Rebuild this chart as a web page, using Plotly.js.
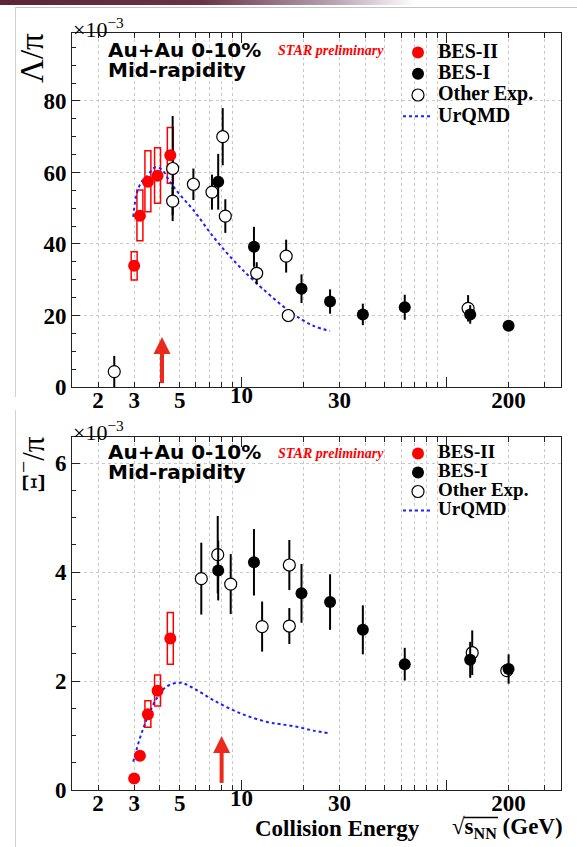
<!DOCTYPE html>
<html><head><meta charset="utf-8">
<script src="https://cdn.plot.ly/plotly-3.0.1.min.js"></script>
<style>
html,body{margin:0;padding:0;background:#fff;}
#wrap{position:relative;width:577px;height:847px;overflow:hidden;}
#plot{position:absolute;left:0;top:0;width:577px;height:847px;}
.bar{position:absolute;left:0;top:0;width:577px;height:5px;background:linear-gradient(to right,#5a2636 0%,#6a3446 35%,#b9a5b2 58%,#ffffff 72%);}
.hline{position:absolute;left:15px;top:7px;width:562px;height:1px;background:#c4c4c4;}
.vline1{position:absolute;left:15px;top:7px;width:1px;height:390px;background:#d0d0d0;}
.vline2{position:absolute;left:15px;top:410px;width:1px;height:437px;background:#d0d0d0;}
</style></head>
<body>
<div id="wrap"><div id="plot"></div><div class="bar"></div><div class="hline"></div><div class="vline1"></div><div class="vline2"></div></div>
<script>
// ---------- data (ratios in units of 1e-3) ----------
const besII_E = [3.0, 3.2, 3.5, 3.9, 4.5];
const lam_besII = [33.9, 47.9, 57.4, 59.1, 64.8];
const lam_besII_sysLo = [29.9, 40.9, 49.0, 51.4, 57.0];
const lam_besII_sysHi = [37.8, 55.1, 66.1, 66.9, 72.6];
const xi_besII = [0.21, 0.63, 1.39, 1.82, 2.78];
const xi_besII_sysLo = [0.19, 0.56, 1.15, 1.54, 2.31];
const xi_besII_sysHi = [0.23, 0.70, 1.64, 2.11, 3.26];

const besI_E = [7.7, 11.5, 19.6, 27, 39, 62.4, 130, 200];
const lam_besI = [57.4, 39.2, 27.5, 23.9, 20.3, 22.3, 20.3, 17.1];
const lam_besI_err = [7.8, 5.6, 4.0, 3.4, 3.0, 3.5, 2.6, 0.8];
const xi_besI = [4.03, 4.18, 3.61, 3.45, 2.94, 2.31, 2.39, 2.22];
const xi_besI_err = [0.55, 0.61, 0.54, 0.51, 0.45, 0.30, 0.33, 0.27];

const lamOther_E = [2.40, 4.62, 4.62, 5.83, 7.18, 8.10, 8.34, 11.86, 16.5, 16.9, 127];
const lam_other = [4.3, 61.1, 52.0, 56.7, 54.5, 70.0, 47.8, 31.8, 36.6, 20.0, 22.0];
const lam_other_err = [4.4, 14.7, 4.0, 4.4, 4.9, 8.0, 4.7, 3.1, 4.6, 1.8, 3.7];
const xiOther_E = [6.37, 7.66, 8.86, 12.6, 17.1, 17.1, 133, 196];
const xi_other = [3.88, 4.32, 3.78, 3.00, 4.13, 3.01, 2.52, 2.19];
const xi_other_err = [0.66, 0.71, 0.55, 0.46, 0.46, 0.33, 0.41, 0.10];

const urqmdLam_E = [2.97, 3.09, 3.27, 3.45, 3.79, 4.09, 4.48, 5.02, 5.83, 7.29, 9.12, 11.4, 17.2, 22.4, 27.0];
const urqmd_lam = [47.6, 54.2, 57.5, 58.8, 61.4, 60.8, 57.4, 53.7, 49.5, 42.0, 35.5, 29.9, 21.1, 17.1, 15.7];
const urqmdXi_E = [2.97, 3.20, 3.45, 3.86, 4.32, 5.02, 5.83, 7.29, 9.83, 13.3, 15.4, 18.6, 22.4, 26.8];
const urqmd_xi = [0.52, 0.95, 1.29, 1.68, 1.90, 1.97, 1.87, 1.65, 1.41, 1.25, 1.21, 1.16, 1.09, 1.04];

const arrowE_lam = 4.1, arrowShaft_lam = [1.1, 10.0], arrowTip_lam = 14.0;
const arrowE_xi = 8.0, arrowShaft_xi = [0.13, 0.75], arrowTip_xi = 0.99;

const xTickVals = [2,3,4,5,6,7,8,9,20,30,40,50,60,70,80,90,200,300];
const xTickText = ['2','3','','5','','','','','','30','','','','','','','200',''];
const decadeVals = [10, 100];
const decadeText = ['10', ''];
const lamTicks = [0,20,40,60,80];
const xiTicks = [0,2,4,6];

// ---------- styling ----------
const W = 577, H = 847;
const RED = '#ff0000', BLUE = '#1f1fff', ARROW = '#ea2a1c';
const serif = 'Liberation Serif, Times New Roman, serif';
const tickFont = {family: serif, size: 23, color: '#000', weight: 'bold'};
const xDom = [72/W, 561/W];
const yDomTop = [1-387/H, 1-33/H];
const yDomBot = [1-790/H, 1-437/H];
const xRange = [Math.log10(1.494), Math.log10(360)];
const gridCol = '#c9c9c9';

function mainX(anchor){
  return {type:'log', range:xRange, domain:xDom, anchor:anchor, tickmode:'array',
    tickvals:xTickVals, ticktext:xTickText, ticks:'inside', ticklen:5, tickwidth:1, tickcolor:'#222',
    showgrid:true, gridcolor:gridCol, griddash:'3px,3px', gridwidth:1,
    showline:true, linecolor:'#222', linewidth:1, mirror:'ticks', zeroline:false,
    tickfont:tickFont, ticklabelstandoff:-8, fixedrange:true};
}
function decX(over, anchor){
  return {type:'log', range:xRange, domain:xDom, anchor:anchor, overlaying:over, tickmode:'array',
    tickvals:decadeVals, ticktext:decadeText, ticks:'inside', ticklen:10, tickwidth:1, tickcolor:'#222',
    showgrid:false, showline:false, mirror:'ticks', zeroline:false, tickfont:tickFont, ticklabelstandoff:-8};
}
function mainY(anchor, dom, range, vals, minorD){
  return {range:range, domain:dom, anchor:anchor, tickmode:'array', tickvals:vals,
    ticks:'inside', ticklen:8, tickwidth:1, tickcolor:'#222',
    minor:{dtick:minorD, ticks:'inside', ticklen:4, tickcolor:'#222', showgrid:false},
    showgrid:true, gridcolor:gridCol, griddash:'3px,3px', gridwidth:1,
    showline:true, linecolor:'#222', linewidth:1, mirror:true, zeroline:false,
    tickfont:tickFont, fixedrange:true};
}

function lg(s, fs){ return '<span style="font-size:' + fs + 'px">' + s + '</span>'; }

function panel(xa, xdec, ya, legendId, fs, E2, v2, E1, v1, e1, Eo, vo, eo, Eu, vu, aE, aShaft, aTip){
  const tr = [];
  tr.push({type:'scatter', x:Eu, y:vu, mode:'lines', xaxis:xa, yaxis:ya, name:lg('UrQMD', fs),
    legend:legendId, legendrank:4, line:{color:BLUE, width:2, dash:'3px,3px', shape:'spline'}, hoverinfo:'skip'});
  tr.push({type:'scatter', x:Eo, y:vo, mode:'markers', xaxis:xa, yaxis:ya, name:lg('Other Exp.', fs),
    legend:legendId, legendrank:3,
    marker:{symbol:'circle', size:12, color:'#fff', line:{color:'#000', width:1.2}},
    error_y:{type:'data', array:eo, visible:true, color:'#000', thickness:2, width:0}});
  tr.push({type:'scatter', x:E1, y:v1, mode:'markers', xaxis:xa, yaxis:ya, name:lg('BES-I', fs),
    legend:legendId, legendrank:2, marker:{symbol:'circle', size:12, color:'#000'},
    error_y:{type:'data', array:e1, visible:true, color:'#000', thickness:2, width:0}});
  tr.push({type:'scatter', x:E2, y:v2, mode:'markers', xaxis:xa, yaxis:ya, name:lg('BES-II', fs),
    legend:legendId, legendrank:1, marker:{symbol:'circle', size:12, color:RED}});
  tr.push({type:'scatter', x:[aE, aE], y:aShaft, mode:'lines', xaxis:xdec, yaxis:ya, showlegend:false,
    line:{color:ARROW, width:4}, hoverinfo:'skip'});
  tr.push({type:'scatter', x:[aE], y:[aTip], mode:'markers', xaxis:xdec, yaxis:ya, showlegend:false,
    marker:{symbol:'arrow-up', size:17, color:ARROW, line:{width:0}}, hoverinfo:'skip'});
  return tr;
}

const data = [].concat(
  panel('x', 'x3', 'y', 'legend', 20, besII_E, lam_besII, besI_E, lam_besI, lam_besI_err,
        lamOther_E, lam_other, lam_other_err, urqmdLam_E, urqmd_lam, arrowE_lam, arrowShaft_lam, arrowTip_lam),
  panel('x2', 'x4', 'y2', 'legend2', 19, besII_E, xi_besII, besI_E, xi_besI, xi_besI_err,
        xiOther_E, xi_other, xi_other_err, urqmdXi_E, urqmd_xi, arrowE_xi, arrowShaft_xi, arrowTip_xi)
);

const boxF = 1.034;
function boxes(lo, hi, xref, yref){
  return besII_E.map((e, i) => ({type:'rect', xref:xref, yref:yref, x0:e/boxF, x1:e*boxF,
    y0:lo[i], y1:hi[i], line:{color:RED, width:1.5}, fillcolor:'rgba(0,0,0,0)', layer:'between'}));
}
const shapes = [].concat(boxes(lam_besII_sysLo, lam_besII_sysHi, 'x', 'y'),
                         boxes(xi_besII_sysLo, xi_besII_sysHi, 'x2', 'y2'));
// overline of the square-root sign in the x title
shapes.push({type:'line', xref:'paper', yref:'paper', x0:464/W, x1:498/W, y0:1-817.5/H, y1:1-817.5/H,
  line:{color:'#000', width:1.3}});

function ann(text, px, py, font, opts){
  return Object.assign({text:text, x:px/W, y:1-py/H, xref:'paper', yref:'paper', showarrow:false,
    xanchor:'left', yanchor:'middle', font:font}, opts||{});
}
const sansB = {family:'DejaVu Sans, sans-serif', size:15.4, color:'#000', weight:'bold'};
const starF = {family:serif, size:14, color:RED, weight:'bold', style:'italic'};
const expF = {family:serif, size:22, color:'#000'};
const titF = {family:serif, size:23, color:'#000', weight:'bold'};
const header = '<span style="font-size:20px">Au+Au 0-10%</span><br><span style="font-size:20px">Mid-rapidity</span>';

const annotations = [
  ann('×10<sup>−3</sup>', 71, 28, expF),
  ann('×10<sup>−3</sup>', 71, 431, expF),
  ann('Λ/π', 32, 58, {family:serif, size:33, color:'#000'}, {xanchor:'center', textangle:-90}),
  ann('Ξ<sup>−</sup>/π', 31, 465, {family:serif, size:31, color:'#000'}, {xanchor:'center', textangle:-90}),
  ann(header, 106, 59.8, sansB, {align:'left'}),
  ann(header, 106, 462.4, sansB, {align:'left'}),
  ann('STAR preliminary', 276, 51, starF),
  ann('STAR preliminary', 276, 453.5, starF),
  ann('Collision Energy', 253, 828, titF),
  ann('√s<sub>NN</sub> (GeV)', 450, 828, titF)
];

const legFont = {family:serif, size:14, color:'#000', weight:'bold'};
const layout = {
  width:W, height:H, margin:{l:0, r:0, t:0, b:0}, paper_bgcolor:'#fff', plot_bgcolor:'#fff',
  xaxis:mainX('y'), yaxis:mainY('x', yDomTop, [0, 99], lamTicks, 5),
  xaxis2:mainX('y2'), yaxis2:mainY('x2', yDomBot, [0, 6.48], xiTicks, 0.5),
  xaxis3:decX('x', 'y'), xaxis4:decX('x2', 'y2'),
  legend:{x:398/W, xanchor:'left', y:1-37/H, yanchor:'top', bgcolor:'rgba(0,0,0,0)', borderwidth:0,
    font:legFont, itemwidth:30, traceorder:'normal'},
  legend2:{x:398/W, xanchor:'left', y:1-439/H, yanchor:'top', bgcolor:'rgba(0,0,0,0)', borderwidth:0,
    font:Object.assign({}, legFont, {size:12}), itemwidth:30, traceorder:'normal'},
  shapes:shapes, annotations:annotations, showlegend:true
};
Plotly.newPlot('plot', data, layout, {displayModeBar:false, staticPlot:true});
</script>
</body></html>
